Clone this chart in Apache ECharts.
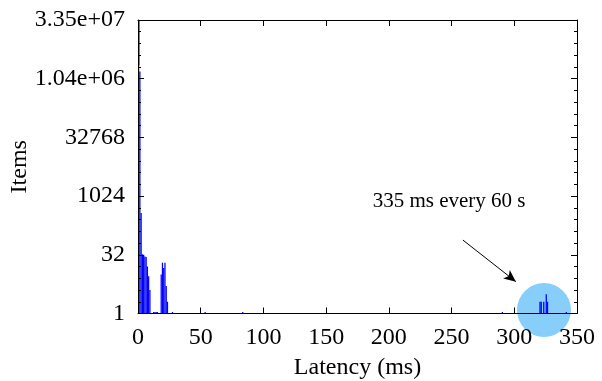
<!DOCTYPE html>
<html>
<head>
<meta charset="utf-8">
<script src="https://cdn.jsdelivr.net/npm/echarts@6/dist/echarts.min.js"></script>
<style>html,body{margin:0;padding:0;background:#fff;}#c{width:602px;height:381px;}</style>
</head>
<body>
<div id="c"></div>
<script>
// Histogram bins (ms, 1 ms wide) and item counts
var latencyMs = [0, 1, 2, 3, 4, 5, 6, 7, 8, 9, 12, 13, 14, 15, 18, 19, 20, 21, 22, 23, 27, 53, 83, 290, 320, 321, 323, 325, 326, 341];
var itemCounts = [2300000, 1600000, 380, 33, 32, 29, 28, 16, 9, 4, 1.1, 1.1, 1.1, 1.1, 10, 20, 14.7, 20, 5.1, 2, 1.1, 1.1, 1.1, 1.1, 2, 2, 2, 3.1, 2, 1.1];
// grey top part of the first bin
var greyBin = [[0, 2300000, 33554432]];
var xTicks = [0, 50, 100, 150, 200, 250, 300, 350];
var yTickLabels = ['1', '32', '1024', '32768', '1.04e+06', '3.35e+07'];
// annotation
var noteText = '335 ms every 60 s';
var notePos = [248, 724];
var arrowFrom = [259, 76.5];
var arrowTo = [301.3, 6.55];
var circleCenter = [323.7, 1.23];

var FONT = 'Liberation Serif';
var barData = latencyMs.map(function (x, i) { return [x, itemCounts[i]]; });

function rectItem(x0, x1, y0, y1, api, color) {
  var p0 = api.coord([x0, y0]);
  var p1 = api.coord([x1, y1]);
  return {
    type: 'rect',
    shape: { x: p0[0], y: p1[1], width: p1[0] - p0[0], height: p0[1] - p1[1] },
    style: { fill: color }
  };
}

var chart = echarts.init(document.getElementById('c'), null, { renderer: 'canvas' });
var tickStyle = { show: true, inside: true, length: 6, lineStyle: { color: '#000', width: 1 } };
var minorStyle = { show: true, splitNumber: 5, length: 3, lineStyle: { color: '#000', width: 1 } };
var lineStyle = { show: true, onZero: false, lineStyle: { color: '#000', width: 1 } };
var gridBox = { left: 138, right: 25, top: 20, bottom: 67.5, containLabel: false, outerBoundsMode: 'none' };
chart.setOption({
  animation: false,
  backgroundColor: '#fff',
  grid: [Object.assign({}, gridBox), Object.assign({}, gridBox)],
  xAxis: [
    {
      type: 'value', gridIndex: 0, min: 0, max: 350, interval: 50, position: 'bottom', z: 5,
      name: 'Latency (ms)', nameLocation: 'middle', nameGap: 42, nameMoveOverlap: false,
      nameTextStyle: { fontFamily: FONT, fontSize: 24, color: '#000' },
      axisLine: lineStyle, splitLine: { show: false },
      axisTick: tickStyle,
      axisLabel: { show: true, margin: 12, fontFamily: FONT, fontSize: 24, color: '#000' }
    },
    {
      type: 'value', gridIndex: 0, min: 0, max: 350, interval: 50, position: 'top', z: 5,
      axisLine: lineStyle, splitLine: { show: false },
      axisTick: tickStyle,
      axisLabel: { show: false }
    },
    {
      type: 'value', gridIndex: 1, min: 0, max: 350, interval: 50, position: 'bottom', show: false
    }
  ],
  yAxis: [
    {
      type: 'log', gridIndex: 0, logBase: 32, min: 1, max: 33554432, position: 'left', z: 5,
      name: 'Items', nameLocation: 'middle', nameGap: 106, nameRotate: 90, nameMoveOverlap: false,
      nameTextStyle: { fontFamily: FONT, fontSize: 24, color: '#000' },
      axisLine: lineStyle, splitLine: { show: false },
      axisTick: { show: false },
      axisLabel: {
        show: true, margin: 13, fontFamily: FONT, fontSize: 24, color: '#000',
        formatter: function (v) { return yTickLabels[Math.round(Math.log(v) / Math.log(32))]; }
      }
    },
    {
      type: 'log', gridIndex: 0, logBase: 32, min: 1, max: 33554432, position: 'right', z: 5,
      axisLine: lineStyle, splitLine: { show: false },
      axisTick: { show: false },
      axisLabel: { show: false }
    },
    // tick-only axes in decade units (one unit = one power of 32), overlaid grid
    {
      type: 'value', gridIndex: 1, min: 0, max: 5, interval: 1, position: 'left', z: 5,
      axisLine: { show: false, onZero: false }, splitLine: { show: false }, axisLabel: { show: false },
      axisTick: tickStyle, minorTick: minorStyle
    },
    {
      type: 'value', gridIndex: 1, min: 0, max: 5, interval: 1, position: 'right', z: 5,
      axisLine: { show: false, onZero: false }, splitLine: { show: false }, axisLabel: { show: false },
      axisTick: tickStyle, minorTick: minorStyle
    }
  ],
  series: [
    {
      type: 'scatter', xAxisIndex: 0, yAxisIndex: 0, z: 1,
      data: [circleCenter], symbol: 'circle', symbolSize: 54,
      itemStyle: { color: '#87cefa', opacity: 1 }, silent: true, clip: false
    },
    {
      type: 'custom', xAxisIndex: 0, yAxisIndex: 0, z: 3, clip: true,
      data: greyBin,
      renderItem: function (params, api) {
        return rectItem(api.value(0), api.value(0) + 1.6, api.value(1), api.value(2), api, '#808080');
      }
    },
    {
      type: 'custom', xAxisIndex: 0, yAxisIndex: 0, z: 3, clip: true,
      data: barData,
      renderItem: function (params, api) {
        return rectItem(api.value(0), api.value(0) + 1, 1, api.value(1), api, '#0000ff');
      },
      markLine: {
        silent: true, symbol: ['none', 'arrow'], symbolSize: [8, 12],
        lineStyle: { color: '#000', width: 1, type: 'solid' },
        label: { show: false },
        data: [[{ coord: arrowFrom }, { coord: arrowTo }]]
      },
      markPoint: {
        silent: true, symbol: 'circle', symbolSize: 0,
        label: { show: true, position: 'inside', formatter: noteText, fontFamily: FONT, fontSize: 21, color: '#000' },
        data: [{ coord: notePos }]
      }
    }
  ]
});
</script>
</body>
</html>
